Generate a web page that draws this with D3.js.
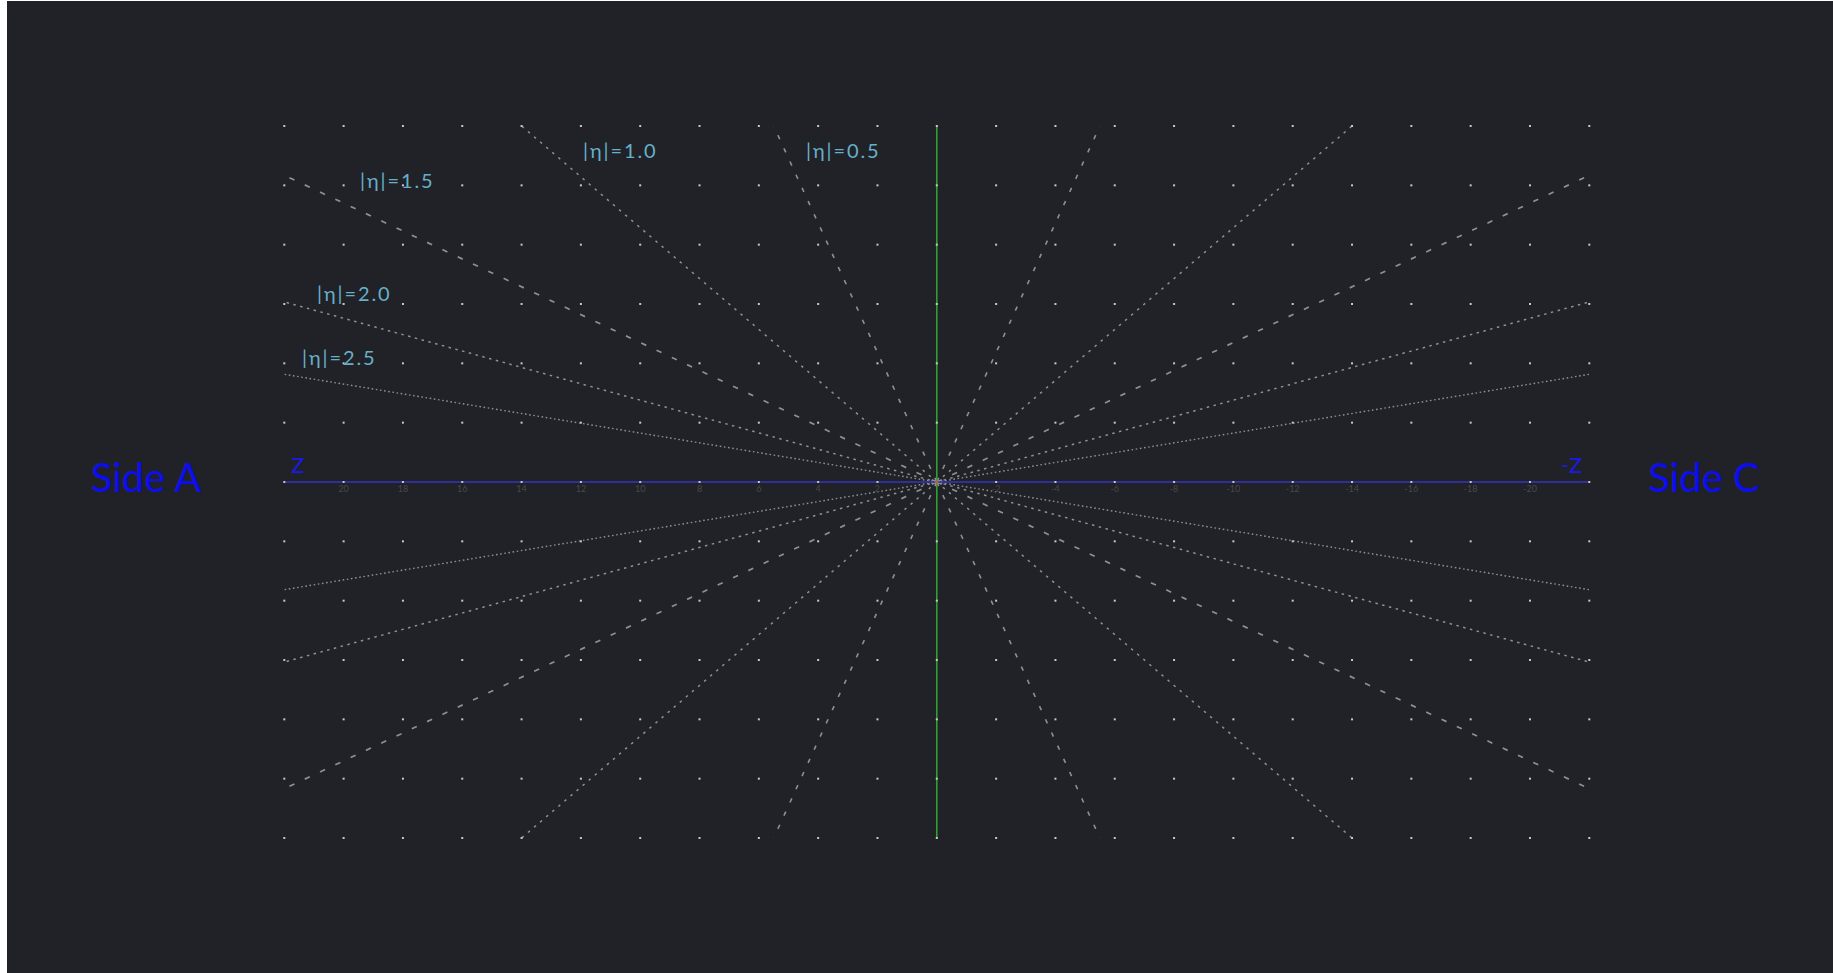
<!DOCTYPE html>
<html>
<head>
<meta charset="utf-8">
<script src="https://cdn.jsdelivr.net/npm/d3@7"></script>
<style>
  html, body { margin: 0; padding: 0; background: #ffffff; overflow: hidden; }
  svg { display: block; }
</style>
</head>
<body>
<svg id="chart" width="1833" height="973"></svg>
<script>
// ---------------- data ----------------
const etaValues = [0.5, 1.0, 1.5, 2.0, 2.5];
const etaLabels = ["|η|=0.5", "|η|=1.0", "|η|=1.5", "|η|=2.0", "|η|=2.5"];
// end point of each pseudorapidity line on the frame edge (data units)
const etaEdgeZ = [5.5, 14.0, 22, 22, 22];
const etaEdgeR = [12, 12, 10.34, 6.07, 3.63];
const zTickValues = [20, 18, 16, 14, 12, 10, 8, 6, 4, 2, -2, -4, -6, -8, -10, -12, -14, -16, -18, -20];
const gridZ = [-22, -20, -18, -16, -14, -12, -10, -8, -6, -4, -2, 0, 2, 4, 6, 8, 10, 12, 14, 16, 18, 20, 22];
const gridR = [-12, -10, -8, -6, -4, -2, 0, 2, 4, 6, 8, 10, 12];
const sideLabels = ["Side A", "Side C"];
const axisLabels = ["Z", "-Z"];

// ---------------- layout ----------------
const svg = d3.select("#chart");
const W = 1833, H = 973;
const panel = { x: 7, y: 1 };
const x = d3.scaleLinear().domain([22, -22]).range([284.3, 1589.3]);
const y = d3.scaleLinear().domain([12, -12]).range([126, 838]);
const x0 = x(0), y0 = y(0);

const dashStyles = ["4.5,10", "2.5,5.5", "5.5,11.4", "2.5,4.5", "1.6,2.6"];
const lineWidths = [1.6, 1.5, 1.7, 1.5, 1.4];
const labelPos = [ // pixel positions of eta labels (left x, middle y)
  [806, 150], [583, 150], [360, 180], [317, 293], [302, 357]
];

svg.append("rect").attr("x", panel.x).attr("y", panel.y)
  .attr("width", W - panel.x).attr("height", H - panel.y).attr("fill", "#212227");

// eta lines, four quadrants
const quads = [[1, 1], [-1, 1], [1, -1], [-1, -1]];
const lineData = [];
etaValues.forEach((eta, i) => {
  quads.forEach(q => lineData.push({ i, z: etaEdgeZ[i] * q[0], r: etaEdgeR[i] * q[1] }));
});
svg.append("g").selectAll("line").data(lineData).join("line")
  .attr("x1", x0).attr("y1", y0)
  .attr("x2", d => x(d.z)).attr("y2", d => y(d.r))
  .attr("stroke", "#909090")
  .attr("stroke-width", d => lineWidths[d.i])
  .attr("stroke-dasharray", d => dashStyles[d.i]);

// Z axis (blue) and R axis (green)
svg.append("line").attr("x1", x(22)).attr("x2", x(-22)).attr("y1", y0).attr("y2", y0)
  .attr("stroke", "#3434c4").attr("stroke-width", 1.6);
svg.append("line").attr("x1", x0).attr("x2", x0).attr("y1", y(12)).attr("y2", y(-12))
  .attr("stroke", "#2fa02f").attr("stroke-width", 1.6);

// tick labels
svg.append("g").selectAll("text").data(zTickValues).join("text")
  .attr("x", d => x(d)).attr("y", y0 + 10)
  .attr("text-anchor", "middle")
  .attr("font-family", "Lato, 'Open Sans', sans-serif")
  .attr("font-size", 9).attr("fill", "#46484d")
  .text(d => d);

// grid dots
const dots = [];
gridZ.forEach(z => gridR.forEach(r => dots.push({ z, r })));
svg.append("g").selectAll("rect").data(dots).join("rect")
  .attr("x", d => x(d.z) - 1).attr("y", d => y(d.r) - 1)
  .attr("width", 2).attr("height", 2)
  .attr("fill", "#c8c8c8");

// origin marker
svg.append("circle").attr("cx", x0).attr("cy", y0).attr("r", 1.6).attr("fill", "#d05050");

// eta labels
svg.append("g").selectAll("text").data(etaLabels).join("text")
  .attr("x", (d, i) => labelPos[i][0]).attr("y", (d, i) => labelPos[i][1])
  .attr("dominant-baseline", "central")
  .attr("font-family", "Lato, 'Open Sans', sans-serif")
  .attr("font-size", 20).attr("letter-spacing", 1.9)
  .attr("fill", "#66b0ca")
  .text(d => d);

// axis end labels
svg.append("text").attr("x", x(22) + 7).attr("y", 473)
  .attr("font-family", "Lato, sans-serif").attr("font-size", 22).attr("fill", "#1a1ae6")
  .text(axisLabels[0]);
svg.append("text").attr("x", x(-22) - 7).attr("y", 473).attr("text-anchor", "end")
  .attr("font-family", "Lato, sans-serif").attr("font-size", 22).attr("fill", "#1a1ae6")
  .text(axisLabels[1]);

// side labels
svg.append("text").attr("x", 146).attr("y", 492).attr("text-anchor", "middle")
  .attr("font-family", "Lato, sans-serif").attr("font-size", 40).attr("fill", "#0d0df2")
  .text(sideLabels[0]);
svg.append("text").attr("x", 1704).attr("y", 492).attr("text-anchor", "middle")
  .attr("font-family", "Lato, sans-serif").attr("font-size", 40).attr("fill", "#0d0df2")
  .text(sideLabels[1]);
</script>
</body>
</html>
